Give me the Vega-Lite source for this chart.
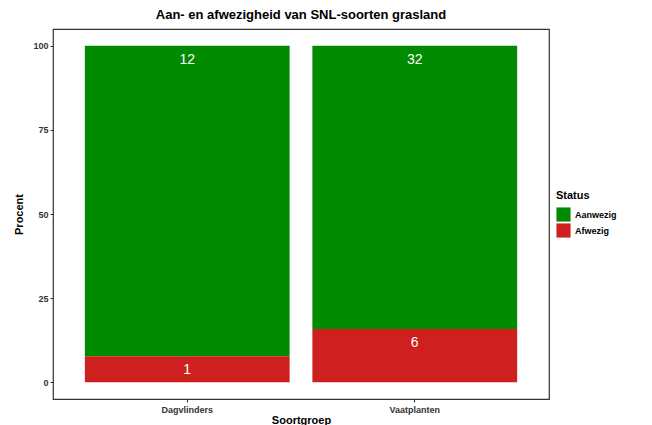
{
  "$schema": "https://vega.github.io/schema/vega-lite/v6.json",
  "width": 496,
  "height": 370,
  "autosize": {"type": "none"},
  "padding": {"left": 53, "top": 29, "right": 103, "bottom": 26},
  "background": "white",
  "title": {
    "text": "Aan- en afwezigheid van SNL-soorten grasland",
    "anchor": "middle",
    "fontSize": 13,
    "fontWeight": "bold",
    "font": "Liberation Sans",
    "color": "black",
    "offset": 7
  },
  "data": {
    "values": [
      {"Soortgroep": "Dagvlinders", "Status": "Aanwezig", "Aantal": 12, "Procent": 92.31},
      {"Soortgroep": "Dagvlinders", "Status": "Afwezig", "Aantal": 1, "Procent": 7.69},
      {"Soortgroep": "Vaatplanten", "Status": "Aanwezig", "Aantal": 32, "Procent": 84.21},
      {"Soortgroep": "Vaatplanten", "Status": "Afwezig", "Aantal": 6, "Procent": 15.79}
    ]
  },
  "config": {
    "view": {"stroke": "#333333", "strokeWidth": 1.2},
    "font": "Liberation Sans"
  },
  "layer": [
    {
      "mark": {"type": "bar"},
      "encoding": {
        "x": {
          "field": "Soortgroep",
          "type": "nominal",
          "scale": {"paddingInner": 0.1, "paddingOuter": 0.14},
          "axis": {
            "title": "Soortgroep",
            "labelAngle": 0,
            "labelFontSize": 9,
            "labelFontWeight": "bold",
            "labelColor": "#333333",
            "titleFontSize": 11,
            "titleFontWeight": "bold",
            "titleColor": "black",
            "titlePadding": 0,
            "domain": false,
            "ticks": true,
            "tickSize": 3,
            "tickColor": "#333333",
            "labelPadding": 3
          }
        },
        "y": {
          "field": "Procent",
          "type": "quantitative",
          "stack": "zero",
          "scale": {"domain": [-5, 105], "nice": false, "zero": false},
          "axis": {
            "title": "Procent",
            "values": [0, 25, 50, 75, 100],
            "grid": false,
            "domain": false,
            "tickSize": 3,
            "tickColor": "#333333",
            "labelFontSize": 9,
            "labelFontWeight": "bold",
            "labelColor": "#333333",
            "labelPadding": 2,
            "titleFontSize": 11,
            "titleFontWeight": "bold",
            "titleColor": "black",
            "titlePadding": 8
          }
        },
        "color": {
          "field": "Status",
          "type": "nominal",
          "scale": {"domain": ["Aanwezig", "Afwezig"], "range": ["#008B00", "#CF2020"]},
          "legend": {
            "orient": "none",
            "legendX": 503,
            "legendY": 161,
            "title": "Status",
            "titleFontSize": 11,
            "titleFontWeight": "bold",
            "titleColor": "black",
            "labelFontSize": 9,
            "labelFontWeight": "bold",
            "labelColor": "black",
            "symbolType": "square",
            "symbolSize": 200,
            "symbolStrokeWidth": 0,
            "rowPadding": 1,
            "titlePadding": 6
          }
        },
        "order": {"field": "Status", "sort": "descending"}
      }
    },
    {
      "transform": [
        {
          "stack": "Procent",
          "groupby": ["Soortgroep"],
          "sort": [{"field": "Status", "order": "descending"}],
          "as": ["y0", "y1"]
        }
      ],
      "mark": {"type": "text", "color": "white", "fontSize": 14, "baseline": "top", "dy": 7},
      "encoding": {
        "x": {"field": "Soortgroep", "type": "nominal"},
        "y": {"field": "y1", "type": "quantitative"},
        "text": {"field": "Aantal", "type": "quantitative"}
      }
    }
  ]
}
